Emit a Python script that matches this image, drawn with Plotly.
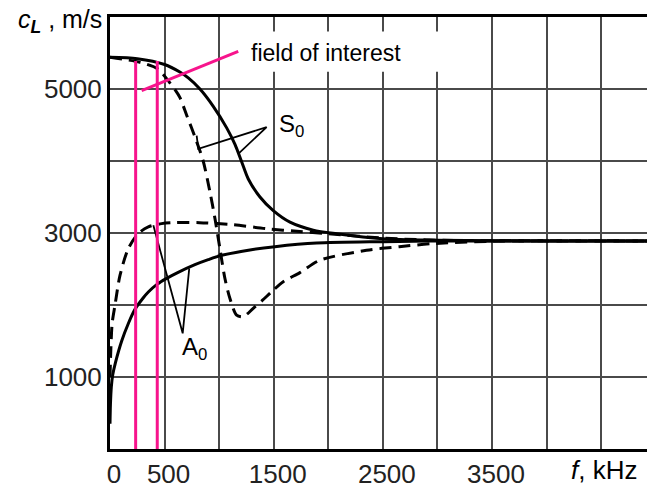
import plotly.graph_objects as go

# ---------------- data ----------------
# frequency f in kHz, phase velocity c_L in m/s
s0_solid_f = [0, 250, 500, 640, 720, 824, 946, 1069, 1145, 1206, 1267, 1374, 1496, 1649, 1862, 2076, 2500, 3000, 4000, 4920]
s0_solid_v = [5440, 5420, 5340, 5235, 5150, 5000, 4760, 4460, 4230, 3990, 3750, 3500, 3310, 3150, 3040, 2990, 2920, 2900, 2890, 2890]

s0_dash_f = [0, 275, 440, 520, 600, 641, 705, 779, 852, 916, 962, 1007, 1053, 1099, 1160, 1221, 1312, 1400, 1481, 1587, 1740, 1920, 2350, 2650, 2960, 3500, 4920]
s0_dash_v = [5440, 5370, 5277, 5140, 4980, 4880, 4626, 4331, 4010, 3569, 3199, 2784, 2368, 2091, 1860, 1838, 1953, 2070, 2184, 2323, 2450, 2620, 2760, 2810, 2853, 2885, 2890]

a0_dash_f = [0, 8, 20, 46, 92, 168, 259, 351, 473, 600, 820, 1130, 1435, 1740, 2000, 2500, 3000, 4920]
a0_dash_v = [1000, 1400, 1750, 2000, 2414, 2784, 2992, 3085, 3130, 3144, 3144, 3115, 3060, 3020, 2990, 2930, 2900, 2890]

a0_solid_f = [0, 4, 12, 25, 50, 107, 170, 229, 300, 351, 433, 519, 620, 778, 900, 1023, 1282, 1511, 1893, 2500, 3000, 4920]
a0_solid_v = [350, 620, 860, 1030, 1200, 1500, 1750, 1940, 2090, 2180, 2290, 2370, 2450, 2560, 2630, 2690, 2765, 2810, 2860, 2880, 2890, 2890]

# field of interest (pink)
field_f = [235, 433]
field_top_v = 5390
field_pointer_f = [290, 1175]
field_pointer_v = [4977, 5522]

# label leader lines
s0_leader_f = [794, 809, 1435, 1175]
s0_leader_v = [4353, 4169, 4470, 4100]
a0_leader_f = [397, 666, 726]
a0_leader_v = [3107, 1607, 2507]

x_tick_vals = [0, 500, 1000, 1500, 2000, 2500, 3000, 3500, 4000, 4500]
x_tick_text = ["0", "500", "", "1500", "", "2500", "", "3500", "", ""]
y_tick_vals = [0, 1000, 2000, 3000, 4000, 5000, 6000]
y_tick_text = ["", "1000", "", "3000", "", "5000", ""]

FONT = "Arial, Liberation Sans, sans-serif"
PINK = "#f7148c"

fig = go.Figure()

# white box behind the "field of interest" text
fig.add_shape(type="rect", xref="x", yref="y", x0=1160, x1=3080, y0=5240, y1=5800,
              fillcolor="white", line_width=0, layer="between")

# curves
fig.add_trace(go.Scatter(x=s0_dash_f, y=s0_dash_v, mode="lines",
                         line=dict(color="black", width=3, dash="12px,7px", shape="spline", smoothing=0.8)))
fig.add_trace(go.Scatter(x=a0_dash_f, y=a0_dash_v, mode="lines",
                         line=dict(color="black", width=3, dash="12px,7px", shape="spline", smoothing=0.8)))
fig.add_trace(go.Scatter(x=s0_solid_f, y=s0_solid_v, mode="lines",
                         line=dict(color="black", width=3, shape="spline", smoothing=0.8)))
fig.add_trace(go.Scatter(x=a0_solid_f, y=a0_solid_v, mode="lines",
                         line=dict(color="black", width=3, shape="spline", smoothing=0.8)))

# leader lines
fig.add_trace(go.Scatter(x=s0_leader_f, y=s0_leader_v, mode="lines",
                         line=dict(color="black", width=1.8)))
fig.add_trace(go.Scatter(x=a0_leader_f, y=a0_leader_v, mode="lines",
                         line=dict(color="black", width=1.8)))

# pink field lines (drawn on top of the curves)
for fv in field_f:
    fig.add_trace(go.Scatter(x=[fv, fv], y=[0, field_top_v], mode="lines",
                             line=dict(color=PINK, width=3), hoverinfo="skip"))
fig.add_trace(go.Scatter(x=field_pointer_f, y=field_pointer_v, mode="lines",
                         line=dict(color=PINK, width=3), hoverinfo="skip"))

fig.add_annotation(x=1530, y=4500, xref="x", yref="y", text="S<sub>0</sub>", showarrow=False,
                   xanchor="left", yanchor="middle", font=dict(family=FONT, size=24, color="black"))
fig.add_annotation(x=778, y=1399, xref="x", yref="y", text="A<sub>0</sub>", showarrow=False,
                   xanchor="center", yanchor="middle", font=dict(family=FONT, size=24, color="black"))
fig.add_annotation(x=1270, y=5500, xref="x", yref="y", text="field of interest", showarrow=False,
                   xanchor="left", yanchor="middle", font=dict(family=FONT, size=23, color="black"))

# axis titles
fig.add_annotation(x=0, y=1, xref="paper", yref="paper", xanchor="right", yanchor="top",
                   xshift=-6, yshift=14, showarrow=False,
                   text="<i>c</i><sub><b><i>L</i></b></sub> , m/s",
                   font=dict(family=FONT, size=25, color="black"))
fig.add_annotation(x=1, y=0, xref="paper", yref="paper", xanchor="right", yanchor="top",
                   xshift=-8, yshift=-4, showarrow=False,
                   text="<i>f</i>, kHz", font=dict(family=FONT, size=26, color="black"))

fig.update_layout(
    width=647, height=489,
    margin=dict(l=110, r=0, t=17, b=38),
    paper_bgcolor="white", plot_bgcolor="white",
    showlegend=False,
    xaxis=dict(range=[0, 4920], tickvals=x_tick_vals, ticktext=x_tick_text,
               showgrid=True, gridcolor="#4a4a4a", gridwidth=2, zeroline=False,
               showline=True, mirror=True, linecolor="black", linewidth=3,
               ticks="", tickfont=dict(family=FONT, size=26, color="#222"),
               ticklabelshift=4),
    yaxis=dict(range=[0, 6000], tickvals=y_tick_vals, ticktext=y_tick_text,
               showgrid=True, gridcolor="#4a4a4a", gridwidth=2, zeroline=False,
               showline=True, mirror=False, linecolor="black", linewidth=3,
               ticks="", tickfont=dict(family=FONT, size=26, color="#222")),
)

fig.write_html("out.html")
